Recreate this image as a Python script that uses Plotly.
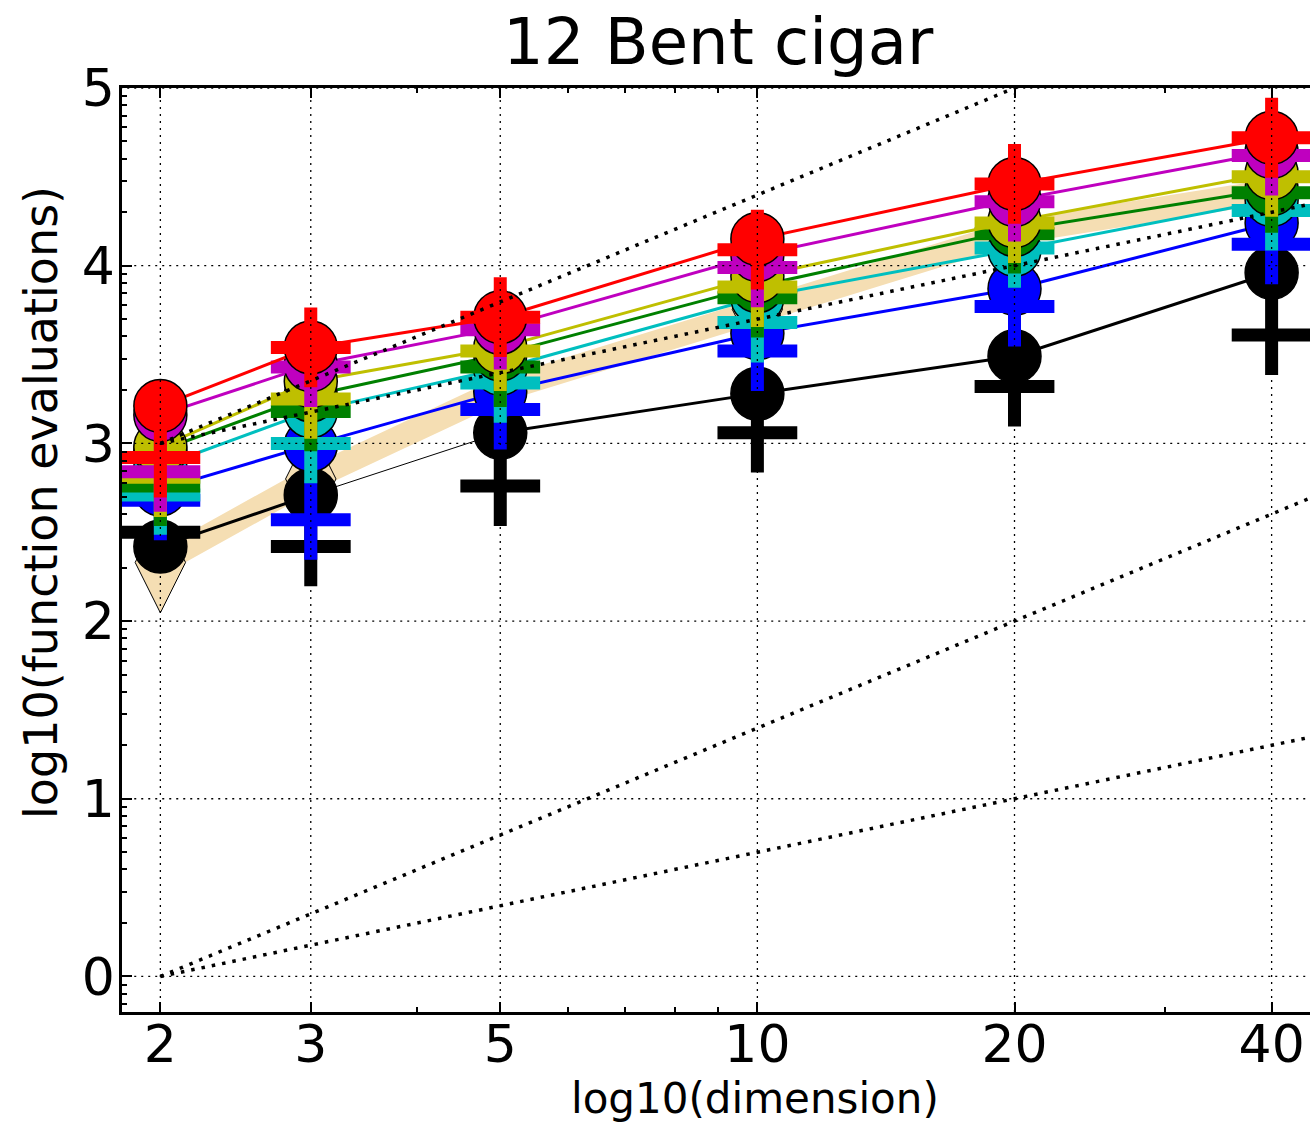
import numpy as np
import plotly.graph_objects as go

# ---------------- data (log10 of function evaluations) ----------------
dims = [2, 3, 5, 10, 20, 40]
dim_labels = ["2", "3", "5", "10", "20", "40"]

# ERT values (large circles)
ert_black = [2.42, 2.71, 3.06, 3.28, 3.49, 3.96]
ert_blue = [2.74, 2.99, 3.29, 3.62, 3.87, 4.24]
ert_cyan = [2.87, 3.18, 3.42, 3.82, 4.09, 4.37]
ert_green = [2.96, 3.27, 3.50, 3.885, 4.20, 4.43]
ert_yellow = [2.98, 3.35, 3.54, 3.94, 4.25, 4.52]
ert_magenta = [3.16, 3.44, 3.65, 4.06, 4.37, 4.64]
ert_red = [3.21, 3.54, 3.71, 4.15, 4.46, 4.72]

# median values ('+' markers)
med_black = [2.50, 2.42, 2.76, 3.06, 3.32, 3.61]
med_blue = [2.68, 2.57, 3.19, 3.52, 3.77, 4.12]
med_cyan = [2.71, 3.00, 3.34, 3.68, 4.10, 4.31]
med_green = [2.76, 3.18, 3.43, 3.82, 4.18, 4.41]
med_yellow = [2.81, 3.25, 3.52, 3.88, 4.24, 4.50]
med_magenta = [2.84, 3.43, 3.64, 3.99, 4.36, 4.62]
med_red = [2.92, 3.54, 3.71, 4.09, 4.46, 4.72]

# best 2009 reference
best2009 = [2.33, 2.80, 3.30, 3.755, 4.19, 4.42]

# reference scaling lines (dimension, log10 evals)
ref_dims = [2, 200]
ref_linear_low = [0, 2]
ref_quad_low = [0, 4]
ref_linear_high = [3, 5]
ref_quad_high = [3, 7]

ytick_vals = [0, 1, 2, 3, 4, 5]
ytick_labels = ["0", "1", "2", "3", "4", "5"]
x_minor_ticks = [4, 6, 7, 8, 9, 30]

# ---------------- styles ----------------
FONT = "DejaVu Sans"
C_BLACK = "#000000"
C_BLUE = "#0000FF"
C_CYAN = "#00BFBF"
C_GREEN = "#008000"
C_YELLOW = "#BFBF00"
C_MAGENTA = "#BF00BF"
C_RED = "#FF0000"
C_WHEAT = "#F5DEB3"

series = [
    (C_BLACK, ert_black, med_black, [3, 1, 3, 3, 3]),
    (C_BLUE, ert_blue, med_blue, [3, 3, 3, 3, 3]),
    (C_CYAN, ert_cyan, med_cyan, [3, 3, 3, 3, 3]),
    (C_GREEN, ert_green, med_green, [3, 3, 3, 3, 3]),
    (C_YELLOW, ert_yellow, med_yellow, [3, 3, 3, 3, 3]),
    (C_MAGENTA, ert_magenta, med_magenta, [3, 3, 3, 3, 3]),
    (C_RED, ert_red, med_red, [3, 3, 3, 3, 3]),
]

fig = go.Figure()

# best 2009 thick band with thin diamonds
fig.add_trace(go.Scatter(
    x=dims, y=best2009, mode="lines+markers",
    line=dict(color=C_WHEAT, width=24),
    marker=dict(symbol="diamond-tall", size=72, color=C_WHEAT,
                line=dict(color="black", width=1)),
    cliponaxis=False, showlegend=False, hoverinfo="skip"))

for color, ert, med, seg_w in series:
    # line segments
    for i in range(len(dims) - 1):
        fig.add_trace(go.Scatter(
            x=dims[i:i + 2], y=ert[i:i + 2], mode="lines",
            line=dict(color=color, width=seg_w[i]),
            showlegend=False, hoverinfo="skip"))
    # ERT circles
    fig.add_trace(go.Scatter(
        x=dims, y=ert, mode="markers",
        marker=dict(symbol="circle", size=53, color=color,
                    line=dict(color="black", width=1.5)),
        cliponaxis=False, showlegend=False, hoverinfo="skip"))
    # median crosses
    fig.add_trace(go.Scatter(
        x=dims, y=med, mode="markers",
        marker=dict(symbol="cross-thin", size=57, color=color,
                    line=dict(color=color, width=13)),
        cliponaxis=False, showlegend=False, hoverinfo="skip"))

# reference dotted lines
for ref in (ref_linear_low, ref_quad_low, ref_linear_high, ref_quad_high):
    fig.add_trace(go.Scatter(
        x=ref_dims, y=ref, mode="lines",
        line=dict(color="black", width=3.5, dash="3.5px,7px"),
        showlegend=False, hoverinfo="skip"))

# grid lines on top (as in matplotlib's default of that era)
ylo, yhi = -0.2, 5
gx, gy = [], []
for d in dims:
    gx += [d, d, None]
    gy += [ylo, yhi, None]
for v in ytick_vals:
    gx += [1, 100, None]
    gy += [v, v, None]
fig.add_trace(go.Scatter(
    x=gx, y=gy, mode="lines",
    line=dict(color="black", width=1.3, dash="2px,5px"),
    showlegend=False, hoverinfo="skip"))

# y minor ticks at log positions
y_minor = []
for j in range(-1, 5):
    for k in range(2, 10):
        v = np.log10(k * 10.0 ** j)
        if ylo < v < yhi:
            y_minor.append(float(v))

fig.update_layout(
    width=1310, height=1125, autosize=False,
    margin=dict(l=122, r=0, t=88, b=113, pad=0),
    paper_bgcolor="white", plot_bgcolor="white",
    font=dict(family=FONT, color="black"),
    showlegend=False,
    xaxis=dict(
        type="log",
        range=[np.log10(1.8035), np.log10(44.36)],
        tickvals=dims, ticktext=dim_labels,
        ticks="inside", ticklen=10, tickwidth=1.5, tickcolor="black",
        showline=True, linecolor="black", linewidth=2.5, mirror="ticks",
        showgrid=False, zeroline=False,
        ticklabelstandoff=-15,
        tickfont=dict(family=FONT, size=52, color="black"),
        minor=dict(tickvals=x_minor_ticks, ticks="inside", ticklen=5,
                   tickwidth=1.5, tickcolor="black", showgrid=False),
    ),
    yaxis=dict(
        range=[ylo, yhi],
        tickvals=ytick_vals, ticktext=ytick_labels,
        ticks="inside", ticklen=10, tickwidth=1.5, tickcolor="black",
        showline=True, linecolor="black", linewidth=2.5, mirror=False,
        showgrid=False, zeroline=False,
        ticklabelstandoff=-6,
        tickfont=dict(family=FONT, size=52, color="black"),
        minor=dict(tickvals=y_minor, ticks="inside", ticklen=5,
                   tickwidth=1.5, tickcolor="black", showgrid=False),
    ),
    annotations=[
        dict(text="12 Bent cigar", xref="paper", yref="paper",
             x=0.5025, y=1.050, xanchor="center", yanchor="middle",
             showarrow=False, font=dict(family=FONT, size=64, color="black")),
        dict(text="log10(dimension)", xref="paper", yref="paper",
             x=0.5328, y=-0.0931, xanchor="center", yanchor="middle",
             showarrow=False, font=dict(family=FONT, size=42, color="black")),
        dict(text="log10(function evaluations)", xref="paper", yref="paper",
             x=-0.0682, y=0.552, xanchor="center", yanchor="middle",
             textangle=-90,
             showarrow=False, font=dict(family=FONT, size=46, color="black")),
    ],
)

fig.write_html("out.html", config={"displayModeBar": False},
               post_script="document.body.style.margin='0px';")
